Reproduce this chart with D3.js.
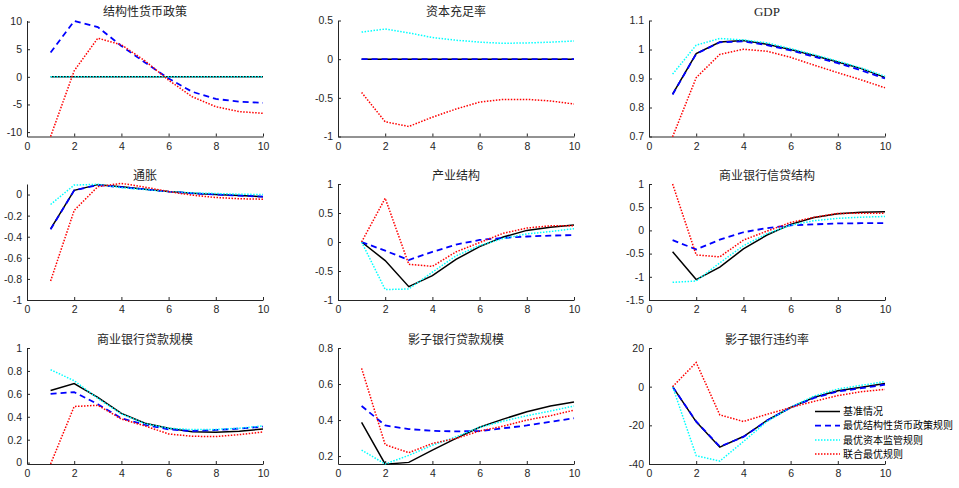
<!DOCTYPE html>
<html>
<head>
<meta charset="utf-8">
<script src="https://cdn.jsdelivr.net/npm/d3@7"></script>
<style>
  body { margin: 0; background: #fff; }
  svg { display: block; }
  .axis path, .axis line { stroke: #262626; }
  .axis text { fill: #262626; font-family: "Liberation Sans", Arial, sans-serif; font-size: 10.5px; }
</style>
</head>
<body>
<div id="chart"></div>
<script>
// periods on the x axis
var periods = [1, 2, 3, 4, 5, 6, 7, 8, 9, 10];

// legend names, in order: base, best monetary rule, best capital rule, joint rule
var seriesNames = ["基准情况", "最优结构性货币政策规则", "最优资本监管规则", "联合最优规则"];

// each panel: [base, monetary, capital, joint]
var structPolicy = [
    [0, 0, 0, 0, 0, 0, 0, 0, 0, 0],
    [4.4, 10.1, 9.0, 5.6, 2.6, -0.3, -2.7, -4.0, -4.5, -4.7],
    [0, 0, 0, 0, 0, 0, 0, 0, 0, 0],
    [-10.8, 1.1, 7.0, 5.8, 2.9, -0.6, -3.6, -5.4, -6.3, -6.6]
];
var capitalRatio = [
    [0, 0, 0, 0, 0, 0, 0, 0, 0, 0],
    [0, 0, 0, 0, 0, 0, 0, 0, 0, 0],
    [0.35, 0.39, 0.34, 0.28, 0.245, 0.22, 0.205, 0.21, 0.22, 0.235],
    [-0.43, -0.81, -0.87, -0.75, -0.645, -0.555, -0.52, -0.52, -0.54, -0.58]
];
var gdp = [
    [0.846, 0.986, 1.026, 1.031, 1.018, 1.0, 0.979, 0.957, 0.934, 0.904],
    [0.845, 0.985, 1.025, 1.028, 1.015, 0.997, 0.975, 0.953, 0.928, 0.900],
    [0.915, 1.015, 1.038, 1.033, 1.023, 1.003, 0.982, 0.960, 0.936, 0.908],
    [0.699, 0.903, 0.983, 1.001, 0.994, 0.973, 0.946, 0.920, 0.895, 0.868]
];
var inflation = [
    [-0.325, 0.04, 0.094, 0.075, 0.05, 0.028, 0.012, 0.0, -0.01, -0.02],
    [-0.33, 0.04, 0.09, 0.07, 0.05, 0.028, 0.012, 0.0, -0.01, -0.02],
    [-0.094, 0.09, 0.097, 0.065, 0.047, 0.028, 0.016, 0.01, 0.003, 0.0],
    [-0.82, -0.15, 0.075, 0.106, 0.07, 0.028, -0.006, -0.028, -0.04, -0.044]
];
var industry = [
    [0, -0.32, -0.77, -0.58, -0.30, -0.08, 0.085, 0.2, 0.255, 0.295],
    [0, -0.15, -0.31, -0.17, -0.045, 0.035, 0.07, 0.095, 0.11, 0.12],
    [0, -0.82, -0.81, -0.52, -0.24, -0.06, 0.06, 0.14, 0.18, 0.23],
    [0, 0.755, -0.385, -0.42, -0.17, -0.01, 0.15, 0.24, 0.28, 0.28]
];
var creditStruct = [
    [-0.46, -1.06, -0.79, -0.40, -0.10, 0.13, 0.28, 0.36, 0.39, 0.40],
    [-0.21, -0.41, -0.20, -0.04, 0.05, 0.11, 0.13, 0.15, 0.155, 0.157],
    [-1.12, -1.09, -0.70, -0.33, -0.07, 0.11, 0.21, 0.26, 0.285, 0.30],
    [1.0, -0.53, -0.57, -0.21, -0.015, 0.17, 0.285, 0.365, 0.37, 0.37]
];
var bankLoans = [
    [0.63, 0.69, 0.57, 0.43, 0.343, 0.30, 0.27, 0.265, 0.273, 0.294],
    [0.60, 0.615, 0.51, 0.387, 0.33, 0.29, 0.276, 0.285, 0.297, 0.314],
    [0.81, 0.715, 0.56, 0.425, 0.34, 0.30, 0.288, 0.29, 0.30, 0.32],
    [-0.012, 0.49, 0.50, 0.38, 0.32, 0.25, 0.23, 0.227, 0.244, 0.267]
];
var shadowLoans = [
    [0.387, 0.155, 0.165, 0.233, 0.298, 0.36, 0.405, 0.446, 0.478, 0.50],
    [0.478, 0.37, 0.35, 0.34, 0.337, 0.339, 0.354, 0.37, 0.39, 0.41],
    [0.233, 0.156, 0.204, 0.26, 0.307, 0.36, 0.394, 0.424, 0.45, 0.478],
    [0.687, 0.263, 0.219, 0.27, 0.298, 0.339, 0.366, 0.40, 0.424, 0.455]
];
var shadowDefault = [
    [0, -18.2, -31.3, -25.8, -17.5, -10.8, -5.5, -2.1, -0.3, 1.6],
    [0, -18.0, -31.0, -26.0, -17.5, -10.8, -5.8, -2.5, -0.8, 1.0],
    [0, -35.7, -38.5, -28.4, -18.0, -10.7, -4.8, -1.2, 0.7, 2.6],
    [0, 12.5, -14.6, -18.0, -14.3, -10.8, -7.6, -4.6, -2.6, -1.4]
];

var titles = ["结构性货币政策", "资本充足率", "GDP", "通胀", "产业结构", "商业银行信贷结构",
    "商业银行贷款规模", "影子银行贷款规模", "影子银行违约率"];
var yDomains = [[-10.8, 10.2], [-1, 0.5], [0.7, 1.1], [-1, 0.1], [-1, 1], [-1.5, 1],
    [-0.012, 1], [0.156, 0.8], [-40, 20]];
var yTicks = [
    [-10, -5, 0, 5, 10],
    [-1, -0.5, 0, 0.5],
    [0.7, 0.8, 0.9, 1, 1.1],
    [-1, -0.8, -0.6, -0.4, -0.2, 0],
    [-1, -0.5, 0, 0.5, 1],
    [-1.5, -1, -0.5, 0, 0.5, 1],
    [0, 0.2, 0.4, 0.6, 0.8, 1],
    [0.2, 0.4, 0.6, 0.8],
    [-40, -20, 0, 20]
];
var xTicks = [0, 2, 4, 6, 8, 10];
var panels = [structPolicy, capitalRatio, gdp, inflation, industry, creditStruct,
    bankLoans, shadowLoans, shadowDefault];

// styles per series
var styles = [
    { color: "#000000", dash: null, width: 1.5 },
    { color: "#0000ff", dash: "6,4", width: 1.8 },
    { color: "#00ffff", dash: "1.5,1.5", width: 1.5 },
    { color: "#ff0000", dash: "1.5,1.5", width: 1.5 }
];

var W = 959, H = 488;
var lefts = [27, 338, 649];
var tops = [20.5, 184, 348];
var pw = 236, ph = 116;

var svg = d3.select("#chart")
    .append("svg")
    .attr("width", W)
    .attr("height", H);

panels.forEach(function (series, i) {
    var col = i % 3, row = Math.floor(i / 3);
    var g = svg.append("g")
        .attr("transform", "translate(" + lefts[col] + "," + tops[row] + ")");

    var x = d3.scaleLinear().domain([0, 10]).range([0, pw]);
    var y = d3.scaleLinear().domain(yDomains[i]).range([ph, 0]);

    var clipId = "clip" + i;
    g.append("clipPath").attr("id", clipId)
        .append("rect").attr("x", -2).attr("y", -2).attr("width", pw + 4).attr("height", ph + 3);

    g.append("g")
        .attr("class", "axis")
        .attr("transform", "translate(0," + ph + ")")
        .call(d3.axisBottom(x).tickValues(xTicks).tickSizeInner(-3).tickSizeOuter(0).tickPadding(6)
            .tickFormat(function (d) { return String(d); }));

    g.append("g")
        .attr("class", "axis")
        .call(d3.axisLeft(y).tickValues(yTicks[i]).tickSizeInner(-3).tickSizeOuter(0).tickPadding(5)
            .tickFormat(function (d) { return String(d); }));

    var line = d3.line()
        .x(function (d, k) { return x(periods[k]); })
        .y(function (d) { return y(d); });

    var lines = g.append("g").attr("clip-path", "url(#" + clipId + ")");
    series.forEach(function (vals, s) {
        lines.append("path")
            .datum(vals)
            .attr("d", line)
            .attr("fill", "none")
            .attr("stroke", styles[s].color)
            .attr("stroke-width", styles[s].width)
            .attr("stroke-dasharray", styles[s].dash);
    });

    g.append("text")
        .attr("x", pw / 2)
        .attr("y", -4.5)
        .attr("text-anchor", "middle")
        .attr("fill", "#262626")
        .style("font-family", titles[i] === "GDP" ? "'Liberation Serif', serif" : "'Noto Sans CJK SC', sans-serif")
        .style("font-size", titles[i] === "GDP" ? "13px" : "12px")
        .text(titles[i]);
});

// legend inside last panel
var legend = svg.append("g").attr("transform", "translate(815,411.5)");
seriesNames.forEach(function (name, s) {
    var row = legend.append("g").attr("transform", "translate(0," + (s * 14.2) + ")");
    row.append("line")
        .attr("x1", 0).attr("x2", 25)
        .attr("stroke", styles[s].color)
        .attr("stroke-width", styles[s].width)
        .attr("stroke-dasharray", styles[s].dash);
    row.append("text")
        .attr("x", 28)
        .attr("dy", "0.36em")
        .attr("fill", "#000")
        .style("font-family", "'Noto Sans CJK SC', sans-serif")
        .style("font-size", "10px")
        .text(name);
});
</script>
</body>
</html>
